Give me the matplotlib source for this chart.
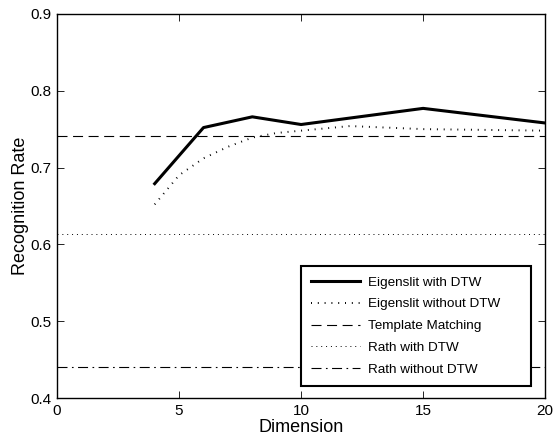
import numpy as np
import matplotlib.pyplot as plt

plt.rcParams['font.family'] = ['Liberation Sans', 'DejaVu Sans']

# recognition rate vs. dimension
dim_dtw = [4, 6, 8, 10, 15, 20]
rate_dtw = [0.679, 0.752, 0.766, 0.756, 0.777, 0.758]

dim_nodtw = [4, 5, 6, 7, 8, 9, 10, 12, 15, 20]
rate_nodtw = [0.652, 0.690, 0.712, 0.727, 0.739, 0.745, 0.748, 0.754, 0.750, 0.748]

template_rate = 0.741
rath_dtw_rate = 0.614
rath_nodtw_rate = 0.441

xlim = [0, 20]

fig = plt.figure(figsize=(5.54, 4.38), dpi=100)
ax = fig.add_axes([0.103, 0.0913, 0.881, 0.877])

ax.plot(dim_dtw, rate_dtw, 'k-', lw=2.2, label='Eigenslit with DTW')
ax.plot(dim_nodtw, rate_nodtw, color='k', lw=1.4, linestyle=(0, (0.5, 3.0)),
        label='Eigenslit without DTW')
ax.plot(xlim, [template_rate] * 2, color='k', lw=0.8, linestyle=(0, (9, 5)),
        label='Template Matching')
ax.plot(xlim, [rath_dtw_rate] * 2, color='k', lw=0.7, linestyle=(0, (1, 4)),
        label='Rath with DTW')
ax.plot(xlim, [rath_nodtw_rate] * 2, color='k', lw=0.8, linestyle=(0, (9, 4, 1.5, 4)),
        label='Rath without DTW')

ax.set_xlim(xlim)
ax.set_ylim(0.4, 0.9)
ax.set_xticks([0, 5, 10, 15, 20])
ax.set_yticks([0.4, 0.5, 0.6, 0.7, 0.8, 0.9])
ax.tick_params(direction='in', top=True, right=True, length=5, width=0.6,
               labelsize=11, pad=4)
for s in ax.spines.values():
    s.set_linewidth(1.0)

ax.set_xlabel('Dimension', fontsize=13, labelpad=1)
ax.set_ylabel('Recognition Rate', fontsize=13, labelpad=1)

leg = ax.legend(loc='lower left', bbox_to_anchor=(0.5, 0.031, 0.471, 0.32),
                mode='expand', fontsize=9.7,
                fancybox=False, framealpha=1, edgecolor='k', borderpad=0.75,
                labelspacing=0.7, handlelength=3.6, handletextpad=0.6,
                borderaxespad=0)
leg.get_frame().set_linewidth(1.5)

fig.savefig('out.png', dpi=100)
